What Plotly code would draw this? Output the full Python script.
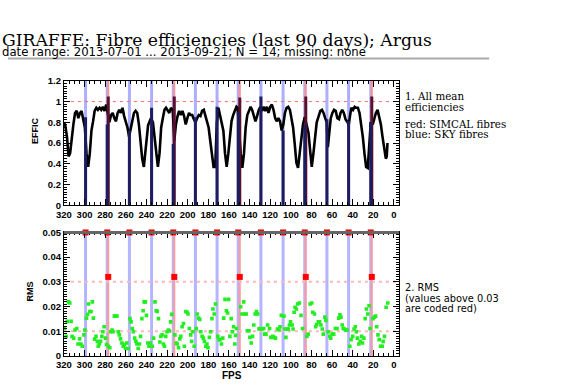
import plotly.graph_objects as go

W, H = 570, 392

# ---------------- data ----------------
eff_fps = [320, 318.7, 317, 315.5, 314, 312.4, 310.8, 309.2, 307.6, 306, 304.4, 302.9, 301.3, 299.7, 298.1,
           296.5, 294.9, 293.3, 291.7, 290.2, 288.6, 287, 285.4, 283.8, 282.2, 280.6, 279, 275.9, 274.3,
           272.7, 271.1, 269.5, 267.9, 266.3, 264.8, 263.2, 261.6, 260, 258.4, 256.8, 255.2, 253.7, 252.1,
           250.5, 248.9, 247.3, 245.7, 244.1, 242.5, 241, 239.4, 238.4, 236.8, 235.6, 233.7, 232.1, 230.5,
           228.9, 227.3, 225.7, 224.1, 222.5, 221, 219.4, 217.8, 216.2, 214.5, 213, 211.4, 209.8, 208.3,
           206.7, 205.1, 203.5, 201.9, 200.3, 198.7, 197.1, 195.6, 194, 192.4, 190.8, 189.2, 187.6, 186,
           184.4, 182.9, 181.3, 179.7, 178.1, 176.5, 174.9, 173.3, 171.7, 170.2, 168.6, 167, 165.4, 163.8,
           162.2, 160.6, 159, 157.5, 155.9, 154.3, 152.7, 151.5, 150, 148.6, 147, 145.4, 143.8, 142.2,
           140.6, 139, 137.5, 135.9, 134.3, 132.7, 131.1, 129.5, 128, 126.4, 124.8, 123.2, 121.6, 120,
           118.4, 116.8, 115.2, 113.7, 112.1, 110.5, 108.9, 107.3, 105.7, 104.1, 102.5, 100.9, 99.3, 97.8,
           96.2, 94.6, 93, 91.4, 89.8, 88.2, 86.5, 84.4, 82.9, 81.3, 79.7, 78.1, 76.5, 74.9, 73, 71.4,
           69.8, 68.3, 66.7, 65.2, 64.1, 62.9, 61.3, 59.7, 58.1, 56.5, 54.9, 53.3, 51.8, 50.2, 48.6, 47,
           45.4, 43.8, 42.5, 41.3, 39.7, 38.1, 36.5, 35, 33.4, 31.8, 30.2, 28.6, 27, 25.4, 24.4, 22.5,
           20.6, 19.1, 17.5, 15.9, 14.3, 12.7, 11.1, 9.5, 7.9, 7, 6.3]
eff_val = [0.80, 0.77, 0.66, 0.47, 0.50, 0.66, 0.78, 0.89, 0.91, 0.84, 0.89, 0.91, 0.84, 0.75, 0.50,
           0.37, 0.50, 0.72, 0.81, 0.91, 0.94, 0.92, 0.94, 0.92, 0.95, 0.91, 0.97, 0.80, 0.87,
           0.89, 0.84, 0.81, 0.89, 0.92, 0.89, 0.94, 0.86, 0.81, 0.75, 0.66, 0.75, 0.84, 0.89,
           0.91, 0.89, 0.78, 0.62, 0.45, 0.37, 0.50, 0.68, 0.77, 0.81, 0.84, 0.80, 0.66, 0.50,
           0.37, 0.50, 0.75, 0.84, 0.92, 0.94, 0.92, 0.89, 0.94, 0.92, 0.62, 0.78, 0.86, 0.91,
           0.87, 0.91, 0.86, 0.78, 0.84, 0.89, 0.87, 0.87, 0.83, 0.80, 0.84, 0.87, 0.86, 0.91,
           0.92, 0.87, 0.81, 0.75, 0.62, 0.50, 0.37, 0.37, 0.80, 0.94, 0.87, 0.81, 0.72, 0.50,
           0.37, 0.50, 0.69, 0.81, 0.87, 0.92, 0.95, 0.94, 0.70, 0.50, 0.36, 0.50, 0.75, 0.87,
           0.91, 0.95, 0.92, 0.87, 0.81, 0.86, 0.92, 0.95, 0.91, 0.95, 0.91, 0.95, 0.89, 0.95,
           0.97, 0.92, 0.84, 0.81, 0.84, 0.81, 0.72, 0.78, 0.89, 0.94, 0.95, 0.92, 0.84, 0.75,
           0.59, 0.41, 0.36, 0.50, 0.66, 0.78, 0.85, 0.75, 0.70, 0.53, 0.37, 0.50, 0.66, 0.80, 0.86, 0.91,
           0.92, 0.89, 0.84, 0.80, 0.56, 0.72, 0.84, 0.89, 0.92, 0.91, 0.84, 0.83, 0.89, 0.92, 0.89, 0.83,
           0.80, 0.78, 0.87, 0.94, 0.92, 0.95, 0.94, 0.94, 0.89, 0.78, 0.66, 0.50, 0.37, 0.36, 0.50, 0.80,
           0.78, 0.84, 0.89, 0.92, 0.86, 0.78, 0.66, 0.56, 0.45, 0.47, 0.60]

sky_fps = [299, 278, 256.5, 235, 214, 192.5, 171.5, 151, 129, 107.5, 86.5, 65, 44, 22.5]
sky_eff = [0.85, 0.78, 0.72, 0.94, 0.59, 0.85, 0.95, 0.90, 1.05, 0.72, 0.78, 0.83, 0.81, 0.80]
simcal_fps = [277, 213, 149.5, 85.5, 21.5]
simcal_eff = [1.05, 1.05, 1.04, 1.05, 1.05]

sky_rms = [0.05] * 14          # clipped at the top of the RMS panel
simcal_rms = [0.032] * 5

rms_fps = [319.4, 317.8, 316.8, 315.6, 314.3, 313.0, 312.1, 310.5, 309.2, 307.6, 306.3, 304.8, 303.5, 302.2,
           300.6, 299.7, 298.1, 297.1, 296.2, 294.9, 293.7, 292.4, 291.4, 290.2, 288.9, 287.6, 286.7, 285.7,
           284.4, 283.2, 282.2, 281.0, 279.7, 278.7, 276.8, 275.5, 274.6, 273.3, 272.4, 271.1, 269.8, 268.6,
           267.3, 266.3, 265.1, 263.8, 262.5, 261.3, 260.3, 259.0, 257.8, 255.9, 254.9, 253.7, 252.7, 251.4,
           250.2, 249.2, 248.0, 246.7, 245.7, 244.4, 243.2, 242.2, 241.0, 240.0, 238.7, 237.5, 236.5, 234.3,
           233.0, 231.7, 230.5, 229.5, 228.3, 227.0, 226.0, 224.8, 223.5, 222.5, 221.3, 220.0, 218.7, 217.8,
           216.5, 215.5, 212.4, 211.1, 210.2, 208.9, 207.6, 206.7, 205.4, 204.1, 203.2, 201.9, 200.6, 199.7,
           198.4, 197.1, 196.2, 194.9, 193.7, 191.7, 190.8, 189.5, 188.3, 187.3, 186.0, 184.8, 183.8, 182.5,
           181.3, 180.3, 179.0, 177.8, 176.5, 175.5, 174.3, 173.0, 170.8, 169.5, 168.6, 167.3, 166.0, 165.1,
           163.8, 162.5, 161.3, 160.3, 159.1, 157.8, 156.8, 155.5, 154.3, 153.6, 152.7, 148.6, 147.3, 145.7,
           144.8, 143.2, 142.2, 140.6, 139.7, 138.4, 137.1, 135.9, 134.6, 133.3, 132.1, 130.8, 130.2, 127.6,
           126.3, 125.4, 124.1, 122.5, 120.6, 119.4, 117.4, 116.2, 114.9, 113.0, 111.4, 110.5, 109.2, 106.7,
           105.7, 104.8, 103.5, 102.5, 101.3, 100.3, 98.7, 97.8, 96.8, 95.9, 94.6, 93.3, 91.7, 90.1, 88.6,
           84.4, 83.2, 81.3, 79.7, 78.7, 77.1, 75.9, 74.9, 73.3, 72.1, 70.8, 69.5, 68.6, 67.0, 66.0, 63.8,
           62.2, 61.3, 60.0, 58.4, 56.8, 55.2, 53.6, 52.4, 51.4, 50.2, 49.2, 47.9, 46.7, 45.4, 42.8, 41.6,
           40.0, 38.7, 37.5, 36.5, 35.5, 34.0, 32.7, 31.4, 30.5, 29.2, 27.9, 26.7, 25.4, 24.1, 23.2, 20.3,
           19.0, 17.8, 16.8, 15.5, 14.3, 13.0, 11.4, 10.5, 9.2, 7.6, 6.0]
rms_val = [0.0111, 0.0079, 0.0140, 0.0219, 0.0214, 0.0140, 0.0079, 0.0072, 0.0105, 0.0111, 0.0048, 0.0069, 0.0048, 0.0039,
           0.0085, 0.0105, 0.0153, 0.0168, 0.0210, 0.0180, 0.0180, 0.0219, 0.0153, 0.0068, 0.0079, 0.0059, 0.0039, 0.0048,
           0.0059, 0.0079, 0.0098, 0.0118, 0.0072, 0.0046, 0.0039, 0.0033, 0.0098, 0.0105, 0.0098, 0.0161, 0.0161, 0.0161,
           0.0098, 0.0085, 0.0069, 0.0052, 0.0039, 0.0046, 0.0030, 0.0052, 0.0030, 0.0151, 0.0138, 0.0111, 0.0098, 0.0072,
           0.0059, 0.0048, 0.0030, 0.0048, 0.0079, 0.0151, 0.0183, 0.0219, 0.0219, 0.0164, 0.0052, 0.0039, 0.0052, 0.0039,
           0.0072, 0.0219, 0.0183, 0.0180, 0.0151, 0.0056, 0.0079, 0.0085, 0.0048, 0.0039, 0.0079, 0.0098, 0.0105, 0.0101,
           0.0138, 0.0168, 0.0085, 0.0052, 0.0048, 0.0033, 0.0069, 0.0079, 0.0118, 0.0131, 0.0039, 0.0180, 0.0177, 0.0170,
           0.0111, 0.0085, 0.0059, 0.0098, 0.0039, 0.0111, 0.0170, 0.0153, 0.0148, 0.0098, 0.0079, 0.0072, 0.0059, 0.0039,
           0.0048, 0.0033, 0.0075, 0.0098, 0.0151, 0.0190, 0.0170, 0.0210, 0.0079, 0.0066, 0.0066, 0.0048, 0.0072, 0.0153,
           0.0229, 0.0183, 0.0174, 0.0229, 0.0079, 0.0151, 0.0098, 0.0118, 0.0048, 0.0083, 0.0111, 0.0199, 0.0170, 0.0219,
           0.0170, 0.0170, 0.0102, 0.0102, 0.0075, 0.0052, 0.0079, 0.0125, 0.0170, 0.0180, 0.0170, 0.0109, 0.0111, 0.0109,
           0.0111, 0.0088, 0.0088, 0.0125, 0.0111, 0.0075, 0.0079, 0.0075, 0.0072, 0.0109, 0.0105, 0.0118, 0.0164, 0.0161,
           0.0109, 0.0075, 0.0109, 0.0109, 0.0125, 0.0138, 0.0125, 0.0109, 0.0177, 0.0197, 0.0190, 0.0210, 0.0214, 0.0164, 0.0111,
           0.0079, 0.0088, 0.0210, 0.0214, 0.0177, 0.0170, 0.0118, 0.0127, 0.0138, 0.0138, 0.0125, 0.0109, 0.0088, 0.0157, 0.0144, 0.0098,
           0.0079, 0.0072, 0.0088, 0.0088, 0.0111, 0.0111, 0.0153, 0.0166, 0.0157, 0.0125, 0.0111, 0.0109, 0.0105, 0.0105, 0.0039, 0.0066,
           0.0079, 0.0109, 0.0118, 0.0098, 0.0072, 0.0048, 0.0059, 0.0079, 0.0052, 0.0072, 0.0151, 0.0190, 0.0170, 0.0203, 0.0111, 0.0151,
           0.0157, 0.0161, 0.0118, 0.0085, 0.0066, 0.0039, 0.0039, 0.0059, 0.0079, 0.0197, 0.0214]

eff_ref = [1.0]
rms_refs = [0.01, 0.03]
x_range = [320, -5]
x_ticks = list(range(320, -1, -20))


# ---------------- helpers ----------------
def vlines(xs, y0s, y1s):
    X, Y = [], []
    for x, a, b in zip(xs, y0s, y1s):
        X += [x, x, None]
        Y += [a, b, None]
    return X, Y


def px(x):
    return x / W


def py(y):
    return 1 - y / H


fig = go.Figure()

# ---- top panel ----
X, Y = vlines(sky_fps, [0] * len(sky_fps), [1.2] * len(sky_fps))
fig.add_trace(go.Scatter(x=X, y=Y, mode="lines", line=dict(color="#aeaeff", width=3),
                         xaxis="x", yaxis="y", hoverinfo="skip"))
X, Y = vlines(simcal_fps, [0] * len(simcal_fps), [1.2] * len(simcal_fps))
fig.add_trace(go.Scatter(x=X, y=Y, mode="lines", line=dict(color="#ff9090", width=2),
                         xaxis="x", yaxis="y", hoverinfo="skip"))
fig.add_trace(go.Scatter(x=[x_range[0], x_range[1]], y=eff_ref * 2, mode="lines",
                         line=dict(color="#ff6a6a", width=1, dash="3px,4px"),
                         xaxis="x", yaxis="y", hoverinfo="skip"))
fig.add_trace(go.Scatter(x=eff_fps, y=eff_val, mode="lines", line=dict(color="black", width=2.6),
                         xaxis="x", yaxis="y"))
X, Y = vlines(simcal_fps, [0] * len(simcal_fps), simcal_eff)
fig.add_trace(go.Scatter(x=X, y=Y, mode="lines", line=dict(color="#5a0f2c", width=3),
                         xaxis="x", yaxis="y", hoverinfo="skip"))
X, Y = vlines(sky_fps, [0] * len(sky_fps), sky_eff)
fig.add_trace(go.Scatter(x=X, y=Y, mode="lines", line=dict(color="#1c1c5e", width=3),
                         xaxis="x", yaxis="y", hoverinfo="skip"))

# ---- bottom panel ----
X, Y = vlines(sky_fps, [0] * len(sky_fps), [0.05] * len(sky_fps))
fig.add_trace(go.Scatter(x=X, y=Y, mode="lines", line=dict(color="#b4b4ff", width=3),
                         xaxis="x2", yaxis="y2", hoverinfo="skip"))
X, Y = vlines(simcal_fps, [0] * len(simcal_fps), [0.05] * len(simcal_fps))
fig.add_trace(go.Scatter(x=X, y=Y, mode="lines", line=dict(color="#ff9a9a", width=2),
                         xaxis="x2", yaxis="y2", hoverinfo="skip"))
for r in rms_refs:
    fig.add_trace(go.Scatter(x=[x_range[0], x_range[1]], y=[r, r], mode="lines",
                             line=dict(color="#ffb8b8", width=2, dash="3px,4px"),
                             xaxis="x2", yaxis="y2", hoverinfo="skip"))
fig.add_trace(go.Scatter(x=rms_fps, y=rms_val, mode="markers",
                         marker=dict(color="#22ee22", size=3.6, symbol="square", line=dict(width=0)),
                         xaxis="x2", yaxis="y2"))
fig.add_trace(go.Scatter(x=sky_fps + simcal_fps, y=sky_rms + simcal_rms, mode="markers",
                         marker=dict(color="#ff0000", size=6, symbol="square", line=dict(width=0)),
                         xaxis="x2", yaxis="y2", cliponaxis=False))

# ---------------- axes ----------------
tickfont = dict(family="Liberation Sans", size=9.5, color="black", weight="bold")
xd = [px(56.7), px(396.7)]
common_x = dict(domain=xd, range=x_range, tickvals=x_ticks, ticktext=[str(t) for t in x_ticks],
                ticks="inside", ticklen=6, tickwidth=1, tickcolor="black", mirror="allticks",
                showline=True, linecolor="black", linewidth=1, showgrid=False, zeroline=False,
                tickfont=tickfont,
                minor=dict(dtick=5, tick0=0, ticks="inside", ticklen=3, tickcolor="black", showgrid=False))
common_y = dict(ticks="inside", ticklen=6, tickwidth=1, tickcolor="black", mirror="allticks",
                showline=True, linecolor="black", linewidth=1, showgrid=False, zeroline=False,
                tickfont=tickfont)

fig.update_layout(
    width=W, height=H, autosize=False,
    margin=dict(l=0, r=0, t=0, b=0),
    paper_bgcolor="white", plot_bgcolor="white",
    showlegend=False,
    xaxis=dict(anchor="y", **common_x),
    yaxis=dict(anchor="x", domain=[py(205), py(77)], range=[0, 1.2], dtick=0.2, tick0=0,
               minor=dict(dtick=0.025, tick0=0, ticks="inside", ticklen=3, tickcolor="black", showgrid=False),
               **common_y),
    xaxis2=dict(anchor="y2", **common_x),
    yaxis2=dict(anchor="x2", domain=[py(360), py(233)], range=[0, 0.05], dtick=0.01, tick0=0,
                minor=dict(dtick=0.001, tick0=0, ticks="inside", ticklen=3, tickcolor="black", showgrid=False),
                **common_y),
)

ann = []


def add_text(text, x, y, family, size, weight="normal", xanchor="left", angle=0, yanchor="middle", xshift=0):
    ann.append(dict(text=text, x=px(x), y=py(y), xref="paper", yref="paper", showarrow=False,
                    xanchor=xanchor, yanchor=yanchor, textangle=angle, align="left", borderpad=0,
                    xshift=xshift,
                    font=dict(family=family, size=size, color="black", weight=weight)))


add_text("GIRAFFE: Fibre efficiencies (last 90 days); Argus", 1, 35, "DejaVu Serif", 17.2, xshift=-8)
add_text("date range: 2013-07-01 ... 2013-09-21; N = 14; missing: none", 1, 47.5, "DejaVu Sans", 11.7,
         xshift=-8)
add_text("1. All mean", 402, 92.5, "DejaVu Serif", 10.3)
add_text("efficiencies", 402, 103.5, "DejaVu Serif", 10.3)
add_text("red: SIMCAL fibres", 402, 121, "DejaVu Serif", 10.3)
add_text("blue: SKY fibres", 402, 132, "DejaVu Serif", 10.3)
add_text("2. RMS", 402, 290, "DejaVu Sans", 9.8)
add_text("(values above 0.03", 402, 300.7, "DejaVu Sans", 9.8)
add_text("are coded red)", 402, 311.2, "DejaVu Sans", 9.8)
add_text("EFFIC", 28, 129, "Liberation Sans", 9, weight="bold", xanchor="center", angle=-90)
add_text("RMS", 22, 294, "Liberation Sans", 9, weight="bold", xanchor="center", angle=-90)
add_text("FPS", 226.7, 380, "Liberation Sans", 10, weight="bold", xanchor="center")

fig.update_layout(annotations=ann)
fig.add_shape(type="line", xref="paper", yref="paper", x0=0, x1=px(488), y0=py(54), y1=py(54),
              line=dict(color="#aaaaaa", width=2))
fig.add_shape(type="line", xref="x2 domain", yref="y2 domain", x0=0, x1=1, y0=1, y1=1,
              line=dict(color="#666666", width=3))

# remove the browser's default 8px body margin so the figure sits at the page origin
fig.write_html("out.html", config={"displayModeBar": False},
               post_script="document.body.style.margin='0';")
